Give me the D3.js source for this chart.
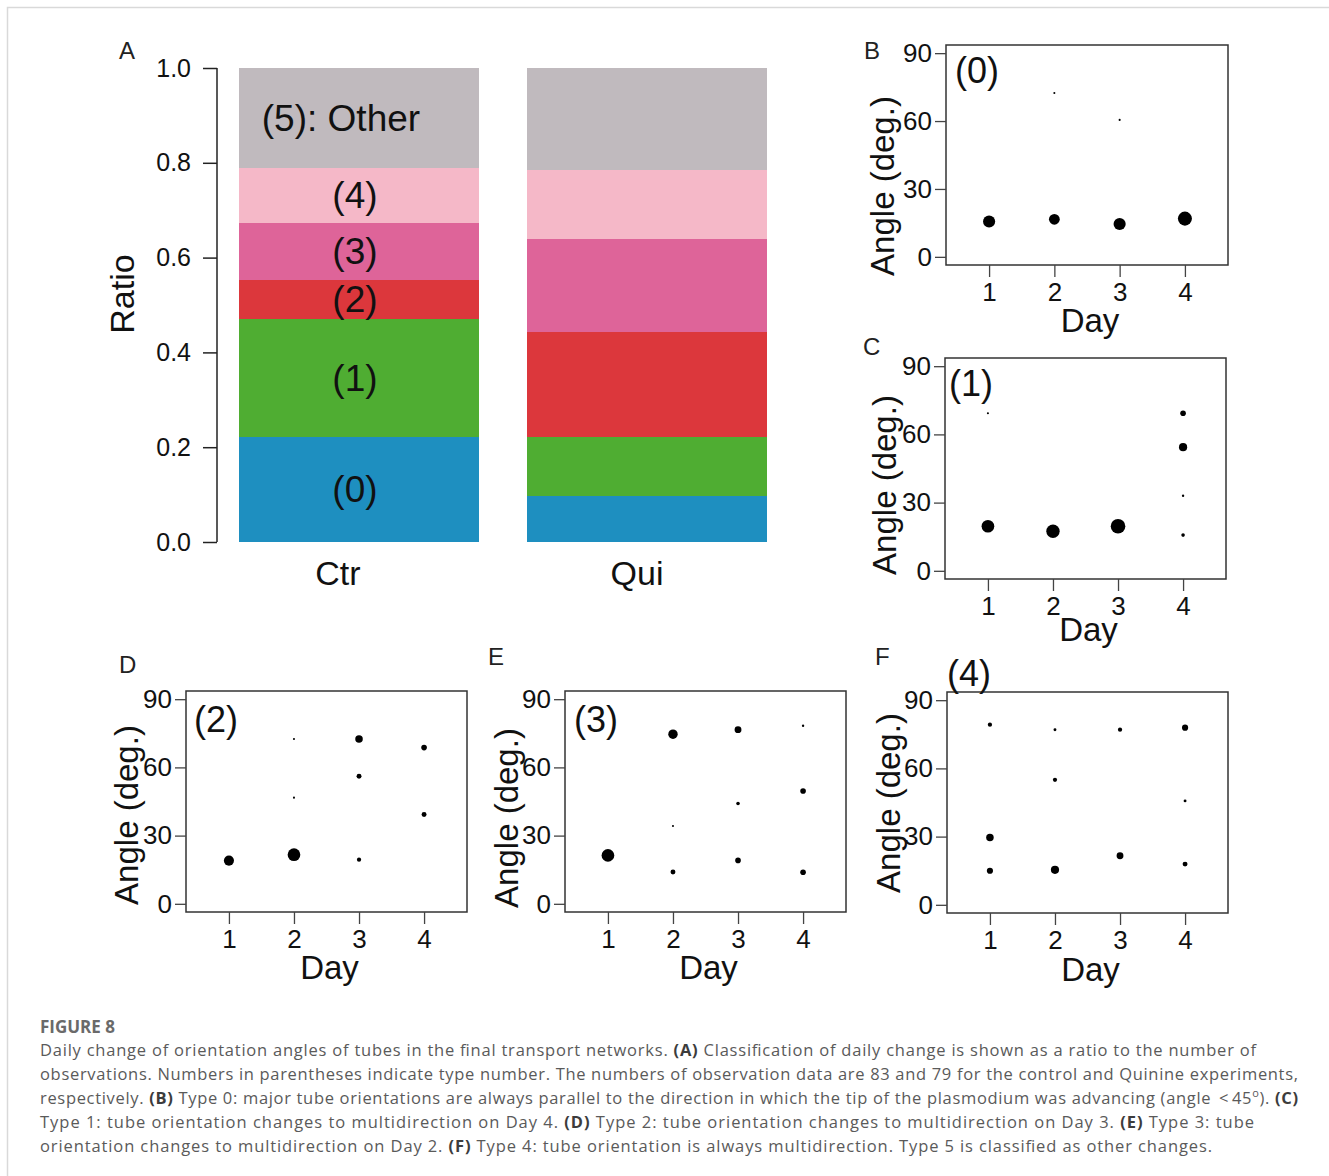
<!DOCTYPE html>
<html>
<head>
<meta charset="utf-8">
<script src="https://cdn.jsdelivr.net/npm/d3@7"></script>
<style>
  html, body { margin: 0; padding: 0; background: #fff; }
  svg { display: block; }
</style>
</head>
<body>
<svg id="fig" width="1329" height="1176"></svg>
<script>
// Daten: (A) Anteile je Typ, (B)-(F) Winkel je Tag
const groups = ["Ctr", "Qui"];
const typeLabels = ["(0)", "(1)", "(2)", "(3)", "(4)", "(5): Other"];
const ctrRatio = [0.222, 0.248, 0.083, 0.121, 0.115, 0.211];
const quiRatio = [0.096, 0.126, 0.222, 0.196, 0.145, 0.215];
const typeColors = ["#1e8fc0", "#4fad32", "#dc373c", "#de6499", "#f5b8c8", "#c0babe"];
const ratioTicks = [0, 0.2, 0.4, 0.6, 0.8, 1.0];

const days = [1, 2, 3, 4];
const angleTicks = [0, 30, 60, 90];
// [Tag, Winkel, Gewicht (Punktgröße)]
const type0 = [[1, 15.6, 0.82], [2, 16.6, 0.72], [2, 72.4, 0.08], [3, 14.5, 0.82], [3, 60.5, 0.08], [4, 16.9, 0.96]];
const type1 = [[1, 69.3, 0.08], [1, 19.6, 0.86], [2, 17.4, 0.91], [3, 19.6, 1.0], [4, 69.3, 0.34], [4, 54.4, 0.53], [4, 33.0, 0.1], [4, 15.7, 0.19]];
const type2 = [[1, 19.0, 0.67], [2, 21.6, 0.86], [2, 72.5, 0.08], [2, 46.7, 0.08], [3, 72.5, 0.48], [3, 56.1, 0.29], [3, 19.4, 0.24], [4, 68.7, 0.34], [4, 39.3, 0.29]];
const type3 = [[1, 21.3, 0.86], [2, 74.6, 0.62], [2, 34.2, 0.08], [2, 14.0, 0.29], [3, 76.6, 0.43], [3, 44.1, 0.19], [3, 19.1, 0.34], [4, 78.3, 0.1], [4, 49.6, 0.34], [4, 13.9, 0.34]];
const type4 = [[1, 79.2, 0.24], [1, 29.6, 0.48], [1, 15.0, 0.38], [2, 77.0, 0.14], [2, 55.0, 0.24], [2, 15.4, 0.53], [3, 77.0, 0.24], [3, 21.6, 0.43], [4, 77.9, 0.38], [4, 45.7, 0.14], [4, 17.9, 0.29]];

const captionTitle = "FIGURE 8";
const captionLines = [
  [["Daily change of orientation angles of tubes in the final transport networks. ", 0], ["(A)", 1], [" Classification of daily change is shown as a ratio to the number of", 0]],
  [["observations. Numbers in parentheses indicate type number. The numbers of observation data are 83 and 79 for the control and Quinine experiments,", 0]],
  [["respectively. ", 0], ["(B)", 1], [" Type 0: major tube orientations are always parallel to the direction in which the tip of the plasmodium was advancing (angle \u202f<\u202f45", 0], ["o", 2], ["). ", 0], ["(C)", 1]],
  [["Type 1: tube orientation changes to multidirection on Day 4. ", 0], ["(D)", 1], [" Type 2: tube orientation changes to multidirection on Day 3. ", 0], ["(E)", 1], [" Type 3: tube", 0]],
  [["orientation changes to multidirection on Day 2. ", 0], ["(F)", 1], [" Type 4: tube orientation is always multidirection. Type 5 is classified as other changes.", 0]]
];
const captionLineEnds = [1256, 1298, 1298, 1254, 1212];

const FONT = "'Liberation Sans', Arial, Helvetica, sans-serif";
const svg = d3.select("#fig");

svg.append("rect").attr("width", 1329).attr("height", 1176).attr("fill", "#fff");
// Rahmen
svg.append("path")
  .attr("d", "M7.5,1176V7.5H1329")
  .attr("fill", "none")
  .attr("stroke", "#d9d9d9")
  .attr("stroke-width", 1.5);

// ---------------- (A) gestapelte Balken ----------------
const gA = svg.append("g");
const yA = d3.scaleLinear().domain([0, 1]).range([542, 68]);
const xA = d3.scaleBand().domain(groups).range([239, 767]).paddingInner(0.167);

const stacks = [ctrRatio, quiRatio].map((vals, gi) => {
  let acc = 0;
  return vals.map((v, i) => {
    const d = { group: groups[gi], type: i, y0: acc, y1: acc + v };
    acc += v;
    return d;
  });
}).flat();

gA.selectAll("rect.seg")
  .data(stacks)
  .enter()
  .append("rect")
    .attr("class", "seg")
    .attr("x", d => xA(d.group))
    .attr("width", xA.bandwidth())
    .attr("y", d => yA(d.y1))
    .attr("height", d => yA(d.y0) - yA(d.y1))
    .attr("fill", d => typeColors[d.type])
    .attr("shape-rendering", "crispEdges");

// Typ-Beschriftungen im Ctr-Balken
gA.selectAll("text.seg-label")
  .data(stacks.filter(d => d.group === "Ctr"))
  .enter()
  .append("text")
    .attr("class", "seg-label")
    .attr("x", d => xA("Ctr") + xA.bandwidth() / 2 - (d.type === 5 ? 18 : 4))
    .attr("y", d => yA((d.y0 + d.y1) / 2))
    .attr("dy", "0.35em")
    .attr("text-anchor", "middle")
    .attr("font-family", FONT)
    .attr("font-size", 37)
    .attr("fill", "#111")
    .text(d => typeLabels[d.type]);

const axA = gA.append("g")
  .attr("transform", "translate(217,0)")
  .call(d3.axisLeft(yA).tickValues(ratioTicks).tickFormat(d3.format(".1f")).tickSize(14).tickPadding(12));
axA.select(".domain").attr("d", `M0,${yA(0)}V${yA(1)}`).attr("stroke", "#222").attr("stroke-width", 1.5);
axA.selectAll(".tick line").attr("stroke", "#222").attr("stroke-width", 1.5);
axA.selectAll(".tick text").attr("font-family", FONT).attr("font-size", 25).attr("fill", "#111");

const groupShift = { Ctr: -21, Qui: -10 };
gA.selectAll("text.grp")
  .data(groups)
  .enter()
  .append("text")
    .attr("class", "grp")
    .attr("x", d => xA(d) + xA.bandwidth() / 2 + groupShift[d])
    .attr("y", 585)
    .attr("text-anchor", "middle")
    .attr("font-family", FONT)
    .attr("font-size", 34)
    .attr("fill", "#111")
    .text(d => d);

gA.append("text")
  .attr("transform", "translate(122,294) rotate(-90)")
  .attr("dy", "0.35em")
  .attr("text-anchor", "middle")
  .attr("font-family", FONT)
  .attr("font-size", 34)
  .attr("fill", "#111")
  .text("Ratio");

// ---------------- (B)-(F) Punktdiagramme ----------------
const rScale = d3.scaleLinear().domain([0, 1]).range([0.5, 7.3]);

const panels = [
  { letter: "B", lx: 864, ly: 59, data: type0, label: "(0)", box: [946, 45, 282, 220], tx: 9, ty: 38, ylx: 882, yly: 186, dayDy: 67 },
  { letter: "C", lx: 863, ly: 355, data: type1, label: "(1)", box: [945, 358, 281, 221], tx: 4, ty: 38, ylx: 884, yly: 485, dayDy: 62 },
  { letter: "D", lx: 119, ly: 673, data: type2, label: "(2)", box: [186, 691, 281, 221], tx: 8, ty: 41, ylx: 126, yly: 815, dayDy: 67 },
  { letter: "E", lx: 488, ly: 665, data: type3, label: "(3)", box: [565, 691, 281, 221], tx: 9, ty: 41, ylx: 506, yly: 818, dayDy: 67 },
  { letter: "F", lx: 875, ly: 665, data: type4, label: "(4)", box: [947, 692, 281, 221], tx: 0, ty: -6, ylx: 888, yly: 803, dayDy: 68 }
];

panels.forEach(p => {
  const [bx, by, bw, bh] = p.box;
  const g = svg.append("g");
  const x = d3.scaleLinear().domain([0.34, 4.66]).range([bx, bx + bw]);
  const y = d3.scaleLinear().domain([-3.6, 93.6]).range([by + bh, by]);

  g.append("rect")
    .attr("x", bx).attr("y", by).attr("width", bw).attr("height", bh)
    .attr("fill", "none").attr("stroke", "#333").attr("stroke-width", 1.5);

  const ax = g.append("g")
    .attr("transform", `translate(${bx},0)`)
    .call(d3.axisLeft(y).tickValues(angleTicks).tickSize(11).tickPadding(3));
  ax.select(".domain").remove();
  ax.selectAll(".tick line").attr("stroke", "#444").attr("stroke-width", 1.3);
  ax.selectAll(".tick text").attr("font-family", FONT).attr("font-size", 26).attr("fill", "#111");

  const axx = g.append("g")
    .attr("transform", `translate(0,${by + bh})`)
    .call(d3.axisBottom(x).tickValues(days).tickFormat(d3.format("d")).tickSize(12).tickPadding(6));
  axx.select(".domain").remove();
  axx.selectAll(".tick line").attr("stroke", "#444").attr("stroke-width", 1.3);
  axx.selectAll(".tick text").attr("font-family", FONT).attr("font-size", 26).attr("fill", "#111");

  g.selectAll("circle")
    .data(p.data)
    .enter()
    .append("circle")
      .attr("cx", d => x(d[0]))
      .attr("cy", d => y(d[1]))
      .attr("r", d => rScale(d[2]))
      .attr("fill", "#000");

  g.append("text")
    .attr("x", bx + p.tx)
    .attr("y", by + p.ty)
    .attr("font-family", FONT)
    .attr("font-size", 36)
    .attr("fill", "#111")
    .text(p.label);

  g.append("text")
    .attr("x", bx + bw / 2 + 3)
    .attr("y", by + bh + p.dayDy)
    .attr("text-anchor", "middle")
    .attr("font-family", FONT)
    .attr("font-size", 33)
    .attr("fill", "#111")
    .text("Day");

  g.append("text")
    .attr("transform", `translate(${p.ylx},${p.yly}) rotate(-90)`)
    .attr("dy", "0.35em")
    .attr("text-anchor", "middle")
    .attr("font-family", FONT)
    .attr("font-size", 33)
    .attr("fill", "#111")
    .text("Angle (deg.)");

  svg.append("text")
    .attr("x", p.lx)
    .attr("y", p.ly)
    .attr("font-family", FONT)
    .attr("font-size", 24)
    .attr("fill", "#222")
    .text(p.letter);
});

svg.append("text")
  .attr("x", 119).attr("y", 59)
  .attr("font-family", FONT).attr("font-size", 24).attr("fill", "#222")
  .text("A");

// ---------------- Bildunterschrift ----------------
const CAP_FONT = "'Open Sans', 'Noto Sans', sans-serif";
svg.append("text")
  .attr("x", 40).attr("y", 1033)
  .attr("font-family", CAP_FONT)
  .attr("font-size", 17)
  .attr("font-weight", 700)
  .attr("fill", "#6a6a6a")
  .text(captionTitle);

captionLines.forEach((parts, i) => {
  const t = svg.append("text")
    .attr("x", 40)
    .attr("y", 1056 + i * 24)
    .attr("font-family", CAP_FONT)
    .attr("font-size", 16.5)
    .attr("fill", "#5a5a5a")
    .attr("textLength", captionLineEnds[i] - 40)
    .attr("lengthAdjust", "spacing")
    .attr("xml:space", "preserve");
  parts.forEach(([s, kind]) => {
    const ts = t.append("tspan").text(s);
    if (kind === 1) ts.attr("font-weight", 700).attr("fill", "#3c3c3c");
    if (kind === 2) ts.attr("font-size", 11).attr("baseline-shift", "super");
  });
});
</script>
</body>
</html>
